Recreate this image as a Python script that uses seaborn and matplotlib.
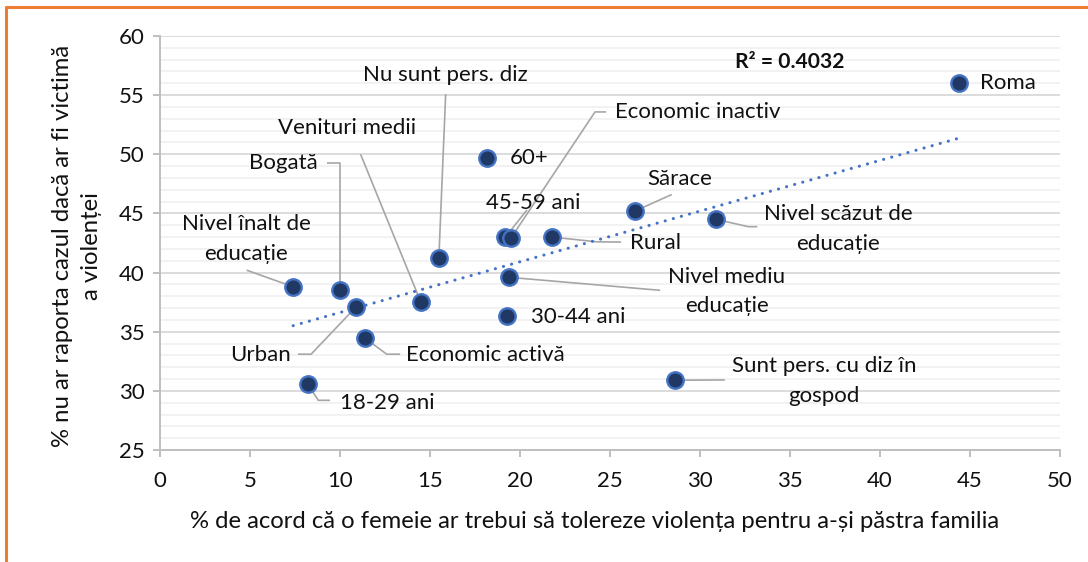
import numpy as np
import pandas as pd
import matplotlib
matplotlib.use("Agg")
import matplotlib.pyplot as plt
from matplotlib.lines import Line2D
from matplotlib.ticker import MultipleLocator
import seaborn as sns

# --- data -------------------------------------------------------------
groups = ["Roma", "60+", "Nu sunt pers. diz", "Venituri medii", "Bogată",
          "Nivel înalt de\neducație", "Urban", "Economic activă", "18-29 ani",
          "45-59 ani", "Economic inactiv", "Rural", "Sărace",
          "Nivel scăzut de\neducație", "Nivel mediu\neducație", "30-44 ani",
          "Sunt pers. cu diz în\ngospod"]
tolerate_pct = [44.4, 18.2, 15.5, 14.5, 10.0, 7.4, 10.9, 11.4, 8.2,
                19.2, 19.5, 21.8, 26.4, 30.9, 19.4, 19.3, 28.6]
not_report_pct = [56.0, 49.7, 41.2, 37.5, 38.5, 38.8, 37.1, 34.45, 30.6,
                  43.0, 42.9, 43.0, 45.2, 44.5, 39.6, 36.3, 30.9]
x_ticks = [0, 5, 10, 15, 20, 25, 30, 35, 40, 45, 50]
y_ticks = [25, 30, 35, 40, 45, 50, 55, 60]
r2_text = "R² = 0.4032"
x_title = "% de acord că o femeie ar trebui să tolereze violența pentru a-și păstra familia"
y_title = "% nu ar raporta cazul dacă ar fi victimă\na violenței"

df = pd.DataFrame({"grup": groups, "x": tolerate_pct, "y": not_report_pct})

# --- label placement (text anchor + leader waypoints, data units) -----
label_layout = {
    "Roma": ((45.6, 56.0), "left", []),
    "60+": ((19.45, 49.7), "left", []),
    "Nu sunt pers. diz": ((15.85, 56.7), "center", [(15.88, 55.1)]),
    "Venituri medii": ((10.4, 52.2), "center", [(11.15, 50.0)]),
    "Bogată": ((6.85, 49.25), "center", [(9.28, 49.25), (10.0, 49.25)]),
    "Nivel înalt de\neducație": ((4.78, 42.85), "center", [(4.82, 40.2)]),
    "Urban": ((5.6, 33.05), "center", [(7.67, 33.1), (8.4, 33.1)]),
    "Economic activă": ((13.65, 33.05), "left", [(13.35, 33.1), (12.6, 33.1)]),
    "18-29 ani": ((10.0, 28.95), "left", [(9.45, 29.2), (8.8, 29.2)]),
    "45-59 ani": ((20.75, 45.9), "center", [(20.4, 45.3)]),
    "Economic inactiv": ((25.3, 53.6), "left", [(24.8, 53.58), (24.18, 53.58)]),
    "Rural": ((26.15, 42.5), "left", [(25.63, 42.58), (24.27, 42.6)]),
    "Sărace": ((28.9, 47.9), "center", [(28.45, 46.6)]),
    "Nivel scăzut de\neducație": ((37.7, 43.7), "center", [(33.2, 43.88), (32.7, 43.88)]),
    "Nivel mediu\neducație": ((31.5, 38.4), "center", [(27.8, 38.5)]),
    "30-44 ani": ((20.6, 36.25), "left", []),
    "Sunt pers. cu diz în\ngospod": ((36.9, 30.85), "center", [(31.4, 30.92)]),
}

# --- style -------------------------------------------------------------
sns.set_theme(style="white")
plt.rcParams["font.family"] = ["Lato", "DejaVu Sans"]
FS = 16
TITLE_FS = 17.2
TEXT = "#111111"
AXIS_GREY = "#BFBFBF"

fig = plt.figure(figsize=(10.88, 5.62), dpi=100)
ax = fig.add_axes([160 / 1088, 1 - 450 / 562, (1059.5 - 160) / 1088, (450 - 36) / 562])

ax.set_xlim(0, 50)
ax.set_ylim(25, 60)
ax.xaxis.set_major_locator(MultipleLocator(5))
ax.yaxis.set_major_locator(MultipleLocator(5))
ax.yaxis.set_minor_locator(MultipleLocator(1))
ax.set_xticks(x_ticks)
ax.set_yticks(y_ticks)
ax.grid(axis="y", which="major", color="#D9D9D9", linewidth=1.3)
ax.grid(axis="y", which="minor", color="#EFEFEF", linewidth=1.1)
ax.grid(axis="x", which="both", visible=False)
ax.set_axisbelow(True)
for side in ("top", "right"):
    ax.spines[side].set_visible(False)
for side in ("left", "bottom"):
    ax.spines[side].set_color(AXIS_GREY)
    ax.spines[side].set_linewidth(1.4)
ax.tick_params(axis="x", which="major", direction="out", length=5, width=1.4,
               color=AXIS_GREY, pad=10, labelsize=FS, labelcolor=TEXT, bottom=True)
ax.tick_params(axis="y", which="major", direction="out", length=5, width=1.4,
               color=AXIS_GREY, pad=6, labelsize=FS, labelcolor=TEXT, left=True)
ax.tick_params(axis="y", which="minor", length=0)

# linear trend line
sns.regplot(data=df, x="x", y="y", ax=ax, scatter=False, ci=None, truncate=True,
            line_kws=dict(color="#4472C4", linewidth=2.2, linestyle=(0, (0.05, 2.7)),
                          dash_capstyle="round", zorder=3))

# leader lines
for name, px, py in zip(groups, tolerate_pct, not_report_pct):
    (tx, ty), ha, path = label_layout[name]
    if path:
        xs = [p[0] for p in path] + [px]
        ys = [p[1] for p in path] + [py]
        ax.plot(xs, ys, color="#A6A6A6", linewidth=1.2, zorder=2, solid_capstyle="butt")

# points
sns.scatterplot(data=df, x="x", y="y", ax=ax, s=140, color="#203864",
                edgecolor="#4472C4", linewidth=1.7, zorder=4, legend=False)

# labels
for name in groups:
    (tx, ty), ha, path = label_layout[name]
    ax.text(tx, ty, name, ha=ha, va="center", fontsize=FS, color=TEXT,
            linespacing=1.6, zorder=5)

ax.text(35.0, 57.8, r2_text, ha="center", va="center", fontsize=15.2,
        fontweight="bold", color=TEXT)

ax.set_xlabel("")
ax.set_ylabel("")
fig.text(595 / 1088, 1 - 522 / 562, x_title, ha="center", va="center",
         fontsize=TITLE_FS, color=TEXT)
fig.text(77 / 1088, 1 - 246 / 562, y_title, ha="center", va="center",
         rotation=90, fontsize=TITLE_FS, color=TEXT, linespacing=1.45)

# orange frame along the top and left edges
frame = "#ED7D31"
fig.add_artist(Line2D([6 / 1088, 1.0], [1 - 7 / 562, 1 - 7 / 562], color=frame,
                      linewidth=2.2, transform=fig.transFigure))
fig.add_artist(Line2D([6 / 1088, 6 / 1088], [0.0, 1 - 7 / 562], color=frame,
                      linewidth=2.2, transform=fig.transFigure))

fig.savefig("out.png", dpi=100, facecolor="white")
